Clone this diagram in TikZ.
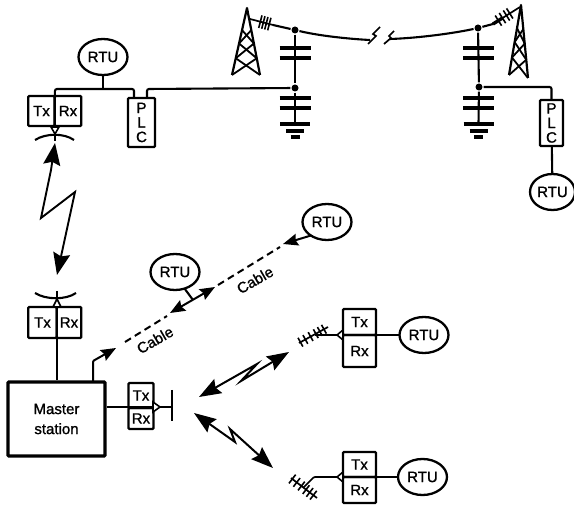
\documentclass[tikz,border=0pt]{standalone}
\usepackage{fontspec}
\setmainfont[RawFeature={embolden=1.2}]{Liberation Sans}
\usetikzlibrary{arrows.meta,positioning,calc,shapes.geometric}
\begin{document}
\begin{tikzpicture}[x=1pt,y=-1pt,line width=2.1pt,every node/.style={font=\fontsize{15}{14.5}\selectfont},
 rtu/.style={draw,ellipse,line width=2.3pt,minimum width=49pt,minimum height=36pt,inner sep=0pt,outer sep=0pt},
 unit/.style={draw,rounded corners=1pt,line width=2.4pt,inner sep=0pt,outer sep=0pt,minimum width=26.5pt,minimum height=30pt,align=center},
 joint/.style={circle,fill,inner sep=0pt,minimum size=7pt},
 plate/.style={line width=4pt},
 lattice/.style={line width=1.8pt,line join=round},
 arr/.style={{Stealth[length=22pt,width=17pt,inset=3pt]}-{Stealth[length=22pt,width=17pt,inset=3pt]},line width=1.9pt},
 hop/.style={{Stealth[length=22pt,width=16pt,inset=3pt]}-{Stealth[length=22pt,width=16pt,inset=3pt]},line width=2pt},
 tap/.style={-{Stealth[length=15pt,width=12pt,inset=2pt]},line width=2pt},
 cab/.style={dash pattern=on 7pt off 4.5pt,line width=2pt}]
\useasboundingbox (0,0) rectangle (574,505);
% power line plant
\node[rtu] (rtuA) at (103,57) {RTU};
\node[unit] (txA) at (41.5,111) {Tx};
\node[unit,right=0pt of txA] (rxA) {Rx};
\node[unit,minimum width=27pt,minimum height=49pt] (plcA) at (141.5,122.5) {P\\L\\C};
\node[joint] (topA) at (295,30) {};
\node[joint] (midA) at (295,88) {};
\node[joint] (topB) at (478,28) {};
\node[joint] (midB) at (479,87) {};
\node[unit,minimum width=23pt,minimum height=46pt] (plcB) at (551.5,123) {P\\L\\C};
\node[rtu,minimum width=45pt] (rtuB) at (552.5,192) {RTU};
\coordinate (busA) at (104,89);
\draw (rtuA.south) -- (rtuA.south |- busA);
\draw[rounded corners=2pt] (txA.south east) ++(0,6) -- (txA.north east) -- (55,89) -- (134,89) -- (134,98);
\draw[rounded corners=2pt] (147,98) -- (147,89) -- (midA);
\draw[rounded corners=2pt] (midB) -- (plcB.north |- midB) -- (plcB.north);
\draw (plcB) -- (rtuB);
\coordinate (cutA) at (370,40);
\coordinate (cutB) at (390,39);
\draw (topA) .. controls (320,36) and (350,39) .. (cutA);
\draw (cutB) .. controls (420,38) and (455,33) .. (topB);
\draw[line width=1.7pt] (368,44) -- (376,36) -- (373,34) -- (380,27);
\draw[line width=1.7pt] (384,44) -- (391,38) -- (389,36) -- (394,31);
% couplers and earths
\foreach \t/\m/\x in {topA/midA/295,topB/midB/478.5} {
  \draw (\t) -- (\m) -- (\x,124);
  \draw[plate] (\x-15.5,48) -- (\x+15.5,48);
  \draw[plate] (\x-15.5,58) -- (\x+15.5,58);
  \draw[plate] (\x-15.5,98.5) -- (\x+15.5,98.5);
  \draw[plate] (\x-15.5,108.5) -- (\x+15.5,108.5);
  \draw[plate] (\x-15,124.5) -- (\x+15,124.5);
  \draw[plate] (\x-9,131) -- (\x+9,131);
  \draw[plate] (\x-4.5,137) -- (\x+4.5,137);
}
% towers
\foreach \n/\ax/\ay/\lx/\ly/\rx/\ry in {P/247/8/232/75/260/75,Q/521/5/509/75/528/78} {
  \coordinate (top\n) at (\ax,\ay);
  \coordinate (bl\n) at (\lx,\ly);
  \coordinate (br\n) at (\rx,\ry);
  \draw[lattice,line width=2.2pt] (bl\n) -- (top\n) -- (br\n);
  \foreach \u/\v in {0/.25,.25/.47,.47/.67} {
    \draw[lattice] ($(bl\n)!\u!(top\n)$) -- ($(br\n)!\v!(top\n)$);
    \draw[lattice] ($(br\n)!\u!(top\n)$) -- ($(bl\n)!\v!(top\n)$);
  }
}
\coordinate (insA) at (250,19);
\coordinate (insB) at (273,25);
\coordinate (insC) at (493,24);
\coordinate (insD) at (520,7);
\draw (insB) -- (topA);
\draw (topB) -- (insC);
\draw[line width=3.4pt] (insC) -- ($(insC)!.35!(insD)$);
% radio link to master
\node[unit,minimum width=28.5pt,minimum height=31pt] (txB) at (42.5,322.5) {Tx};
\node[unit,minimum width=24.5pt,minimum height=31pt,right=0pt of txB] (rxB) {Rx};
\node[draw,rounded corners=1pt,line width=3.4pt,minimum width=97pt,minimum height=74pt,inner sep=0pt,align=center,font=\fontsize{15}{20}\selectfont] (master) at (56.5,419) {Master\\station};
\coordinate (dishA) at (55,143);
\coordinate (dishB) at (57,275);
\draw[arr,line join=miter] (dishA) -- (51,170) -- (41,218) -- (75,192) -- (dishB);
\draw (35,140) .. controls (46,133) and (64,133) .. (74,140);
\draw (35,293) .. controls (46,300) and (66,300) .. (76,293);
\draw[line width=1.7pt] (55,126) -- (55,141);
\draw[line width=1.7pt] (57,291) -- (57,307);
\draw[line width=1.6pt,fill=white] (51,127) -- (59,127) -- (55,134) -- cycle;
\draw[line width=1.6pt,fill=white] (53,307) -- (61,307) -- (57,299) -- cycle;
\draw (txB.south east) -- (master.north -| txB.south east);
% cable run
\node[rtu] (rtuC) at (175,272) {RTU};
\node[rtu] (rtuD) at (327,222) {RTU};
\coordinate (cabA) at (116,348);
\coordinate (cabB) at (170,313);
\coordinate (cabC) at (215,287);
\coordinate (cabD) at (283,244);
\coordinate (teeC) at (193,300);
\draw[tap,rounded corners=1pt] (93,382) -- (93,361) -- (cabA);
\draw[cab] (125,342) -- (167,316);
\draw[tap,{Stealth[length=15pt,width=12pt,inset=2pt]}-{Stealth[length=15pt,width=12pt,inset=2pt]}] (cabB) -- (cabC);
\draw (rtuC.300) -- (teeC);
\draw[cab] (218,285) -- (280,247);
\draw[tap] (rtuD.220) -- (cabD);
\node[rotate=30] (cableA) at (155,340) {Cable};
\node[rotate=30] (cableB) at (255,280) {Cable};
% radio links to the right
\node[unit,minimum width=25pt,minimum height=25pt] (txC) at (141,395.5) {Tx};
\node[unit,minimum width=25pt,minimum height=21pt,below=0pt of txC] (rxC) {Rx};
\coordinate (barC) at (172,407);
\draw (master.east |- barC) -- (barC);
\draw[line width=1.6pt,fill=white] (153,402) -- (153,412) -- (160,407) -- cycle;
\draw[line width=2.6pt] (172,390) -- (172,421);
\coordinate (hopA) at (199,397);
\coordinate (hopB) at (289,352);
\coordinate (hopC) at (194,413);
\coordinate (hopD) at (273,468);
\draw[hop] (hopA) -- (257,364) -- (241,381) -- (hopB);
\draw[hop] (hopC) -- (235,442) -- (230,429) -- (hopD);
\node[unit,minimum width=33pt,minimum height=26pt] (txD) at (359.5,322) {Tx};
\node[unit,minimum width=33pt,minimum height=32pt,below=0pt of txD] (rxD) {Rx};
\node[rtu] (rtuE) at (424,335) {RTU};
\node[unit,minimum width=33pt,minimum height=25pt] (txE) at (359.5,464.5) {Tx};
\node[unit,minimum width=33pt,minimum height=26pt,below=0pt of txE] (rxE) {Rx};
\node[rtu] (rtuF) at (422.5,477) {RTU};
\draw[line width=1.7pt] (txD.south east) -- (rtuE);
\draw[line width=1.7pt] (txE.south east) -- (rtuF);
\coordinate (yagA) at (299,343);
\coordinate (yagB) at (328,327);
\coordinate (yagC) at (291,478);
\coordinate (yagD) at (317,498);
\draw[line width=1.7pt] (txD.south west) -- (315,335);
\draw[line width=1.7pt,rounded corners=1pt] (txE.south west) -- (314,477) -- (303,488);
\draw[line width=1.6pt,fill=white] (343,330) -- (343,340) -- (337,335) -- cycle;
\draw[line width=1.6pt,fill=white] (343,472) -- (343,482) -- (337,477) -- cycle;
% insulators and aerials
\foreach \p/\q/\s/\l in {insA/insB/{.45,.58,.71,.84}/6.5,insC/insD/{.2,.35,.5,.62}/6,yagA/yagB/{.05,.22,.4,.58,.72,.86,1}/5,yagC/yagD/{.05,.22,.4,.58,.72,.86,1}/5.5} {
  \draw[line width=1.7pt] (\p) -- (\q);
  \foreach \t in \s
    \draw[line width=1.6pt] ($(\p)!\t!(\q)!\l pt!90:(\q)$) -- ($(\p)!\t!(\q)!\l pt!-90:(\q)$);
}
\end{tikzpicture}
\end{document}
